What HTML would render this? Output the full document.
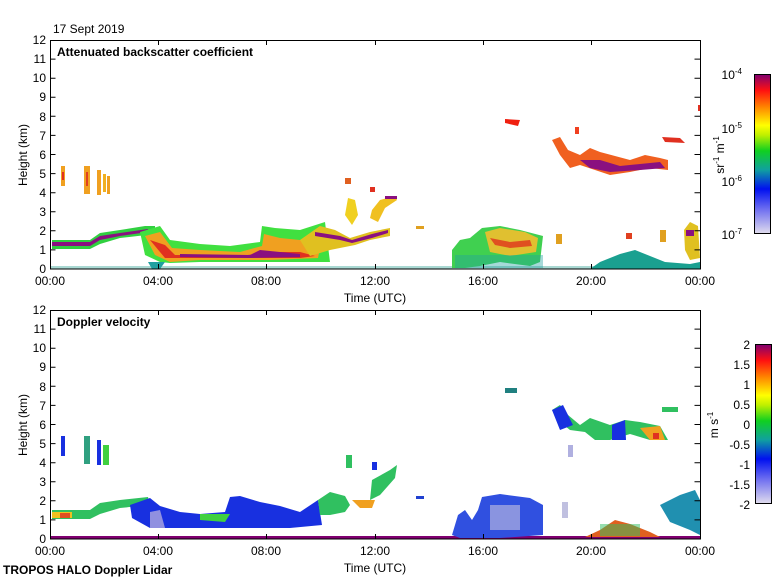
<!DOCTYPE html>
<html><head><meta charset="utf-8"><style>
body{margin:0;background:#fff;width:780px;height:580px;overflow:hidden}
svg{display:block;font-family:"Liberation Sans",sans-serif}
</style></head><body>
<svg width="780" height="580" viewBox="0 0 780 580" xmlns="http://www.w3.org/2000/svg">
<defs>
<linearGradient id="cb1" x1="0" y1="1" x2="0" y2="0">
<stop offset="0" stop-color="#e0dced"/><stop offset="0.15" stop-color="#7070f0"/><stop offset="0.28" stop-color="#0010f0"/><stop offset="0.4" stop-color="#10a0a0"/><stop offset="0.52" stop-color="#10d020"/><stop offset="0.62" stop-color="#c0f000"/><stop offset="0.68" stop-color="#ffff00"/><stop offset="0.8" stop-color="#ff8000"/><stop offset="0.9" stop-color="#ff1010"/><stop offset="1" stop-color="#800070"/>
</linearGradient>
</defs>
<text x="53" y="33" font-size="12">17 Sept 2019</text>

<!-- TOP PANEL data -->
<g>
<rect x="50" y="266" width="650" height="3" fill="#2aa090" opacity="0.4"/>
<!-- early band -->
<polygon points="52,240 90,240 100,233 120,230 145,226 155,226 155,234 120,238 100,244 90,249 52,249" fill="#30d040"/>
<polygon points="52,242 90,242 100,236 120,233 148,229 148,232 120,236 100,240 90,246 52,246" fill="#8a1080"/>
<!-- 3.5-9h layer -->
<polygon points="140,232 160,226 170,240 200,244 230,246 260,242 262,226 275,228 300,230 325,222 330,262 300,262 240,262 200,262 170,263 160,262 145,255" fill="#40e040"/>
<polygon points="145,236 160,232 172,248 200,250 240,252 262,246 264,234 280,238 300,240 322,238 318,258 270,260 200,260 170,262 155,255" fill="#f0a020"/>
<polygon points="150,240 165,245 175,255 200,255 240,256 270,252 300,252 315,256 300,258 250,258 200,258 165,258" fill="#e03020"/>
<polygon points="180,254 250,255 260,250 300,254 300,257 250,258 180,257" fill="#8a1080"/>
<polygon points="148,262 165,262 160,269 152,269" fill="#20a0a0"/>
<!-- 10-13h -->
<polygon points="300,240 320,226 335,230 350,238 370,232 390,228 390,236 370,240 355,245 330,250 310,256" fill="#e0c020"/>
<polygon points="315,232 340,236 352,240 372,234 388,230 388,233 372,238 352,243 340,240 315,236" fill="#8a1080"/>
<polygon points="345,215 348,198 355,200 358,215 352,225" fill="#f0d020"/>
<polygon points="372,210 380,200 395,196 397,200 385,208 378,222 370,218" fill="#f0c020"/>
<rect x="385" y="196" width="12" height="3" fill="#8a1080"/>
<rect x="345" y="178" width="6" height="6" fill="#e06020"/>
<rect x="370" y="187" width="5" height="5" fill="#e03020"/>
<!-- 0.4-2h high clouds -->
<rect x="61" y="166" width="4" height="20" fill="#f0a020"/>
<rect x="62" y="172" width="2" height="8" fill="#e03020"/>
<rect x="84" y="166" width="6" height="28" fill="#f0a020"/>
<rect x="86" y="172" width="2" height="14" fill="#e04020"/>
<rect x="97" y="170" width="4" height="25" fill="#f0a020"/>
<rect x="103" y="174" width="3" height="18" fill="#f0b020"/>
<rect x="107" y="176" width="3" height="18" fill="#f0a020"/>
<!-- 15-18.5h -->
<polygon points="452,250 460,240 470,238 482,228 500,226 520,230 543,236 540,262 530,266 500,262 480,266 465,268 452,268" fill="#40d050"/>
<polygon points="485,232 500,228 525,232 538,238 536,252 510,256 490,252" fill="#e0c030"/>
<polygon points="490,238 510,242 530,240 532,246 510,248 495,245" fill="#e05020"/>
<rect x="455" y="255" width="88" height="13" fill="#20a0a0" opacity="0.4"/>
<rect x="556" y="234" width="6" height="10" fill="#e0a020"/>
<rect x="626" y="233" width="6" height="6" fill="#e04020"/>
<rect x="660" y="230" width="6" height="12" fill="#e0a020"/>
<polygon points="684,230 690,222 698,226 700,258 690,260 685,250" fill="#e0c020"/>
<rect x="686" y="230" width="8" height="6" fill="#8a1080"/>
<rect x="416" y="226" width="8" height="3" fill="#e0a020"/>
<!-- teal hump -->
<polygon points="590,269 600,262 620,254 635,250 650,256 665,262 690,264 700,262 700,269" fill="#1aa090"/>
<!-- high clouds -->
<polygon points="505,119 520,120 518,126 505,123" fill="#f02010"/>
<polygon points="552,140 560,137 568,150 580,155 590,148 600,152 615,156 630,160 645,155 660,158 668,160 668,170 650,168 630,172 610,175 595,170 580,165 570,168 560,155" fill="#f06020"/>
<polygon points="580,160 600,160 620,166 640,164 660,162 665,168 640,170 610,172 590,168" fill="#8a1080"/>
<polygon points="662,137 680,138 685,143 665,142" fill="#e03020"/>
<rect x="575" y="127" width="4" height="7" fill="#f04020"/>
<rect x="698" y="105" width="2" height="6" fill="#e03020"/>
</g>

<!-- TOP axes -->
<g stroke="#000" stroke-width="1" fill="none">
<rect x="50.5" y="40.5" width="650" height="228.5"/>
<path d="M50.5,269 h5 M50.5,249.9 h5 M50.5,230.8 h5 M50.5,211.8 h5 M50.5,192.7 h5 M50.5,173.6 h5 M50.5,154.5 h5 M50.5,135.4 h5 M50.5,116.3 h5 M50.5,97.3 h5 M50.5,78.2 h5 M50.5,59.1 h5
M700.5,249.9 h-6 M700.5,230.8 h-6 M700.5,211.8 h-6 M700.5,192.7 h-6 M700.5,173.6 h-6 M700.5,154.5 h-6 M700.5,135.4 h-6 M700.5,116.3 h-6 M700.5,97.3 h-6 M700.5,78.2 h-6 M700.5,59.1 h-6
M158.5,269 v-5 M266.5,269 v-5 M375.5,269 v-5 M483.5,269 v-5 M591.5,269 v-5
M158.5,40 v5 M266.5,40 v5 M375.5,40 v5 M483.5,40 v5 M591.5,40 v5"/>
</g>
<g font-size="12" text-anchor="end">
<text x="46" y="273">0</text><text x="46" y="254">1</text><text x="46" y="235">2</text><text x="46" y="216">3</text><text x="46" y="197">4</text><text x="46" y="178">5</text><text x="46" y="159">6</text><text x="46" y="140">7</text><text x="46" y="121">8</text><text x="46" y="101">9</text><text x="46" y="82">10</text><text x="46" y="63">11</text><text x="46" y="44">12</text>
</g>
<g font-size="12" text-anchor="middle">
<text x="50" y="285">00:00</text><text x="158" y="285">04:00</text><text x="266" y="285">08:00</text><text x="375" y="285">12:00</text><text x="483" y="285">16:00</text><text x="591" y="285">20:00</text><text x="700" y="285">00:00</text>
<text x="375" y="302">Time (UTC)</text>
</g>
<text x="27" y="155" font-size="12" text-anchor="middle" transform="rotate(-90 27 155)">Height (km)</text>
<text x="57" y="56" font-size="12" font-weight="bold">Attenuated backscatter coefficient</text>
<rect x="754.5" y="74.5" width="16" height="159" fill="url(#cb1)" stroke="#000"/>
<g font-size="12" text-anchor="end">
<text x="742" y="79">10<tspan font-size="8" dy="-5">-4</tspan></text>
<text x="742" y="133">10<tspan font-size="8" dy="-5">-5</tspan></text>
<text x="742" y="186">10<tspan font-size="8" dy="-5">-6</tspan></text>
<text x="742" y="239">10<tspan font-size="8" dy="-5">-7</tspan></text>
</g>
<text x="724" y="155" font-size="12" text-anchor="middle" transform="rotate(-90 724 155)">sr<tspan font-size="8" dy="-5">-1</tspan><tspan dy="5"> m</tspan><tspan font-size="8" dy="-5">-1</tspan></text>

<!-- BOTTOM PANEL data -->
<g>
<rect x="50" y="536" width="650" height="3" fill="#800070"/>
<polygon points="52,510 90,510 100,503 120,500 148,497 150,505 120,508 100,514 90,519 52,519" fill="#30c060"/>
<rect x="52" y="512" width="20" height="6" fill="#f0c020"/>
<rect x="60" y="513" width="10" height="5" fill="#e05020"/>
<polygon points="130,505 150,498 160,506 180,512 200,514 225,512 230,497 240,496 260,502 280,506 300,512 318,500 322,525 290,528 240,528 200,528 170,528 150,528 132,518" fill="#1830e0"/>
<polygon points="150,512 160,510 165,528 150,528" fill="#9090e0"/>
<polygon points="200,514 230,514 225,522 200,520" fill="#40d040"/>
<polygon points="318,500 330,492 345,496 350,505 345,512 330,515 320,515" fill="#30c060"/>
<polygon points="352,500 375,500 372,508 360,508" fill="#f0a020"/>
<rect x="346" y="455" width="6" height="13" fill="#30c060"/>
<polygon points="372,480 390,470 397,465 395,478 380,495 370,500" fill="#30c060"/>
<rect x="372" y="462" width="5" height="8" fill="#1830e0"/>
<rect x="61" y="436" width="4" height="20" fill="#1830e0"/>
<rect x="84" y="436" width="6" height="28" fill="#30a080"/>
<rect x="97" y="440" width="4" height="25" fill="#1830e0"/>
<rect x="103" y="445" width="6" height="20" fill="#40d040"/>
<rect x="416" y="496" width="8" height="3" fill="#2040d0"/>
<polygon points="452,535 458,515 465,510 472,520 478,510 482,497 500,494 530,498 543,505 543,535 500,538 460,538" fill="#3050e0"/>
<rect x="490" y="505" width="30" height="25" fill="#b0b0e0" opacity="0.7"/>
<rect x="562" y="502" width="6" height="16" fill="#c0c0e0"/>
<polygon points="585,537 600,530 615,520 630,524 650,532 660,537" fill="#e06020"/>
<rect x="600" y="524" width="40" height="12" fill="#30c060" opacity="0.5"/>
<polygon points="660,505 680,495 695,490 700,500 700,535 690,530 670,522" fill="#2090b0"/>
<rect x="505" y="388" width="12" height="5" fill="#208080"/>
<polygon points="552,410 560,405 568,415 580,425 590,418 610,425 625,420 640,422 660,426 668,440 650,440 630,434 610,440 595,440 585,432 570,430 560,422" fill="#30c060"/>
<polygon points="552,410 563,405 573,425 560,430" fill="#1830e0"/>
<polygon points="612,425 625,420 626,440 612,440" fill="#1830e0"/>
<polygon points="640,428 660,426 665,440 650,440" fill="#f0a020"/>
<rect x="653" y="433" width="6" height="6" fill="#e03020"/>
<rect x="568" y="445" width="5" height="12" fill="#b0b0e0"/>
<rect x="662" y="407" width="16" height="5" fill="#30c060"/>
</g>

<!-- BOTTOM axes -->
<g stroke="#000" stroke-width="1" fill="none">
<rect x="50.5" y="310.5" width="650" height="228.5"/>
<path d="M50.5,539 h5 M50.5,519.9 h5 M50.5,500.8 h5 M50.5,481.8 h5 M50.5,462.7 h5 M50.5,443.6 h5 M50.5,424.5 h5 M50.5,405.4 h5 M50.5,386.3 h5 M50.5,367.3 h5 M50.5,348.2 h5 M50.5,329.1 h5
M700.5,519.9 h-6 M700.5,500.8 h-6 M700.5,481.8 h-6 M700.5,462.7 h-6 M700.5,443.6 h-6 M700.5,424.5 h-6 M700.5,405.4 h-6 M700.5,386.3 h-6 M700.5,367.3 h-6 M700.5,348.2 h-6 M700.5,329.1 h-6
M158.5,539 v-5 M266.5,539 v-5 M375.5,539 v-5 M483.5,539 v-5 M591.5,539 v-5
M158.5,310 v5 M266.5,310 v5 M375.5,310 v5 M483.5,310 v5 M591.5,310 v5"/>
</g>
<g font-size="12" text-anchor="end">
<text x="46" y="543">0</text><text x="46" y="524">1</text><text x="46" y="505">2</text><text x="46" y="486">3</text><text x="46" y="467">4</text><text x="46" y="448">5</text><text x="46" y="429">6</text><text x="46" y="410">7</text><text x="46" y="391">8</text><text x="46" y="371">9</text><text x="46" y="352">10</text><text x="46" y="333">11</text><text x="46" y="314">12</text>
</g>
<g font-size="12" text-anchor="middle">
<text x="50" y="555">00:00</text><text x="158" y="555">04:00</text><text x="266" y="555">08:00</text><text x="375" y="555">12:00</text><text x="483" y="555">16:00</text><text x="591" y="555">20:00</text><text x="700" y="555">00:00</text>
<text x="375" y="572">Time (UTC)</text>
</g>
<text x="27" y="425" font-size="12" text-anchor="middle" transform="rotate(-90 27 425)">Height (km)</text>
<text x="57" y="326" font-size="12" font-weight="bold">Doppler velocity</text>
<text x="3" y="574" font-size="12" font-weight="bold">TROPOS HALO Doppler Lidar</text>
<rect x="755.5" y="344.5" width="16" height="159" fill="url(#cb1)" stroke="#000"/>
<g font-size="12" text-anchor="end">
<text x="750" y="349">2</text><text x="750" y="369">1.5</text><text x="750" y="389">1</text><text x="750" y="409">0.5</text><text x="750" y="429">0</text><text x="750" y="449">-0.5</text><text x="750" y="469">-1</text><text x="750" y="489">-1.5</text><text x="750" y="509">-2</text>
</g>
<text x="718" y="425" font-size="12" text-anchor="middle" transform="rotate(-90 718 425)">m s<tspan font-size="8" dy="-5">-1</tspan></text>
</svg>
</body></html>
